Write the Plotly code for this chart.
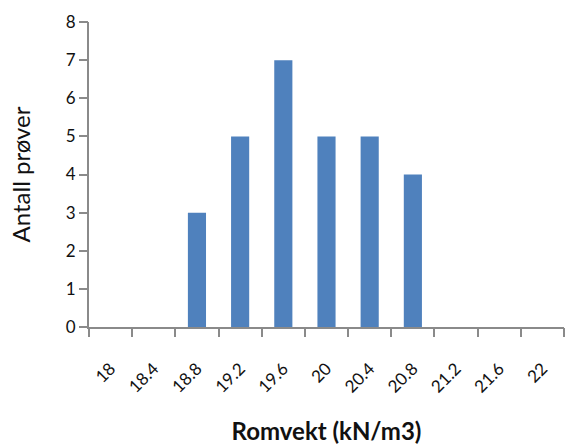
import plotly.graph_objects as go

categories = ["18", "18.4", "18.8", "19.2", "19.6", "20", "20.4", "20.8", "21.2", "21.6", "22"]
counts = [0, 0, 3, 5, 7, 5, 5, 4, 0, 0, 0]
y_ticks = [0, 1, 2, 3, 4, 5, 6, 7, 8]

FONT = "Lato, Calibri, Carlito, sans-serif"
AXIS = "#8a8a8a"
CLEAR = "rgba(0,0,0,0)"
n = len(categories)
positions = list(range(n))
boundaries = [i - 0.5 for i in range(n + 1)]
x_range = [boundaries[0], boundaries[-1]]
y_range = [y_ticks[0], y_ticks[-1]]

fig = go.Figure(go.Bar(
    x=positions, y=counts,
    marker=dict(color="#4F81BD", line=dict(width=0)),
))

# invisible helper traces so the overlay axes (labels / tick marks) are drawn
fig.add_trace(go.Scatter(x=x_range, y=[0, 0], xaxis="x2", yaxis="y",
                         mode="markers", marker=dict(opacity=0, size=1),
                         hoverinfo="skip", showlegend=False))
fig.add_trace(go.Scatter(x=x_range, y=[0, 0], xaxis="x3", yaxis="y",
                         mode="markers", marker=dict(opacity=0, size=1),
                         hoverinfo="skip", showlegend=False))
fig.add_trace(go.Scatter(x=x_range, y=y_range, xaxis="x", yaxis="y2",
                         mode="markers", marker=dict(opacity=0, size=1),
                         hoverinfo="skip", showlegend=False))

tick_marks = dict(showticklabels=False, ticks="outside", ticklen=8, tickwidth=2, tickcolor=AXIS,
                  showline=False, showgrid=False, zeroline=False)

fig.update_layout(
    width=565, height=445,
    margin=dict(l=89, r=1, t=22, b=118),
    plot_bgcolor="white", paper_bgcolor="white",
    bargap=0.58,
    showlegend=False,
    font=dict(family=FONT, color="#000000", size=15),
    # main x axis: line + boundary tick marks
    xaxis=dict(
        automargin=False,
        range=x_range, tickmode="array", tickvals=boundaries,
        showticklabels=False, ticks="outside", ticklen=8, tickwidth=2, tickcolor=AXIS,
        showline=True, linecolor=AXIS, linewidth=2,
        showgrid=False, zeroline=False,
    ),
    # overlay x axis: category labels, pushed down by a transparent tick
    xaxis2=dict(
        overlaying="x", anchor="y", side="bottom", automargin=False,
        range=x_range, tickmode="array", tickvals=positions, ticktext=categories,
        tickangle=-45,
        ticks="outside", ticklen=24, tickwidth=1, tickcolor=CLEAR,
        showline=False, showgrid=False, zeroline=False,
        tickfont=dict(family=FONT, size=17, color="#111111"),
        title=dict(text="<b>Romvekt (kN/m3)</b>", font=dict(family=FONT, size=24, color="#111111"), standoff=38),
    ),
    # second overlay: same boundary tick marks (redundant, for robustness)
    xaxis3=dict(overlaying="x", anchor="y", side="bottom", automargin=False,
                range=x_range, tickmode="array", tickvals=boundaries, **tick_marks),
    yaxis=dict(
        automargin=False,
        range=y_range, tickmode="array", tickvals=y_ticks,
        ticks="outside", ticklen=8, tickwidth=2, tickcolor=AXIS,
        showline=True, linecolor=AXIS, linewidth=2,
        showgrid=False, zeroline=False,
        tickfont=dict(family=FONT, size=17, color="#111111"),
        title=dict(text="Antall prøver", font=dict(family=FONT, size=24, color="#111111"), standoff=28),
    ),
    yaxis2=dict(overlaying="y", anchor="x", side="left", automargin=False,
                range=y_range, tickmode="array", tickvals=y_ticks, **tick_marks),
)

fig.write_html("out.html")
